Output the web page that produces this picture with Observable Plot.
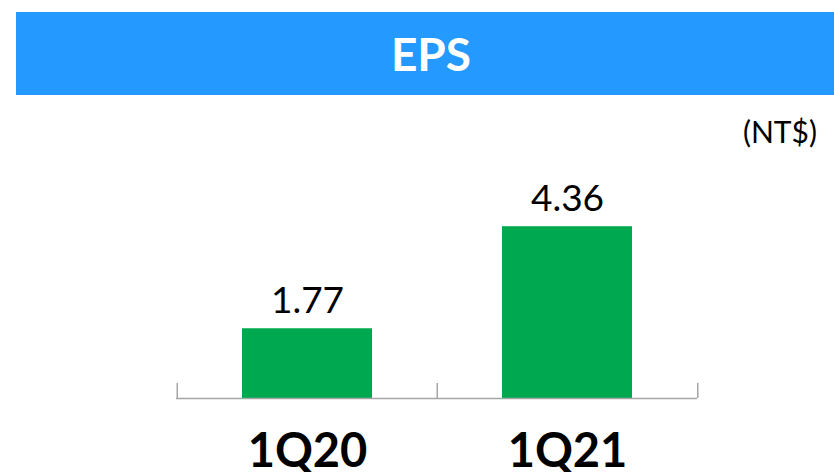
<!DOCTYPE html>
<html>
<head>
<meta charset="utf-8">
<script src="https://cdn.jsdelivr.net/npm/d3@7"></script>
<script src="https://cdn.jsdelivr.net/npm/@observablehq/plot@0.6"></script>
<style>
  html, body { margin: 0; padding: 0; background: #fff; }
  #wrap { position: relative; width: 834px; height: 472px; overflow: hidden; font-family: Lato, "Open Sans", sans-serif; }
  #title { position: absolute; left: 16px; top: 12px; width: 806px; padding-left: 12px; height: 83px; line-height: 83px;
           background: #2499FF; color: #fff; font-weight: bold; font-size: 46px; text-align: center; }
  #unit { position: absolute; right: 17px; top: 116px; font-size: 30px; line-height: 30px; color: #000; }
  #chart { position: absolute; left: 0; top: 95px; }
</style>
</head>
<body>
<div id="wrap">
  <div id="title">EPS</div>
  <div id="unit">(NT$)</div>
  <div id="chart"></div>
</div>
<script>
const categories = ["1Q20", "1Q21"];
const eps = [1.77, 4.36];
const titleText = "EPS";
const unitText = "(NT$)";

const data = categories.map((c, i) => ({ period: c, value: eps[i] }));

const width = 834, height = 377;
const marginLeft = 176, marginRight = 137, marginTop = 106, marginBottom = 74;
const step = (width - marginLeft - marginRight) / categories.length;
const frameH = height - marginTop - marginBottom;
const tickLen = 15;
const axisColor = "#A6A6A6";

const chart = Plot.plot({
  width, height, marginLeft, marginRight, marginTop, marginBottom,
  style: { fontFamily: "Lato, 'Open Sans', sans-serif", background: "transparent", color: "#000" },
  x: { domain: categories, paddingInner: 0.5, paddingOuter: 0.25, label: null },
  y: { domain: [0, 5], axis: null, label: null },
  marks: [
    Plot.barY(data, { x: "period", y: "value", fill: "#00A84F" }),
    Plot.ruleY([0], { stroke: axisColor, strokeWidth: 1.5 }),
    Plot.ruleX(categories, { x: d => d, dx: -step / 2, insetTop: frameH - tickLen, stroke: axisColor, strokeWidth: 1.5 }),
    Plot.ruleX(categories.slice(-1), { x: d => d, dx: step / 2, insetTop: frameH - tickLen, stroke: axisColor, strokeWidth: 1.5 }),
    Plot.text(data, { x: "period", y: "value", text: d => d.value.toFixed(2), dy: -16, lineAnchor: "bottom", fontSize: 37, fill: "#000" }),
    Plot.axisX({ tickSize: 0, tickPadding: 35, fontSize: 47, fontWeight: "bold", fill: "#000", label: null })
  ]
});
document.getElementById("chart").appendChild(chart);
document.getElementById("title").textContent = titleText;
document.getElementById("unit").textContent = unitText;
</script>
</body>
</html>
